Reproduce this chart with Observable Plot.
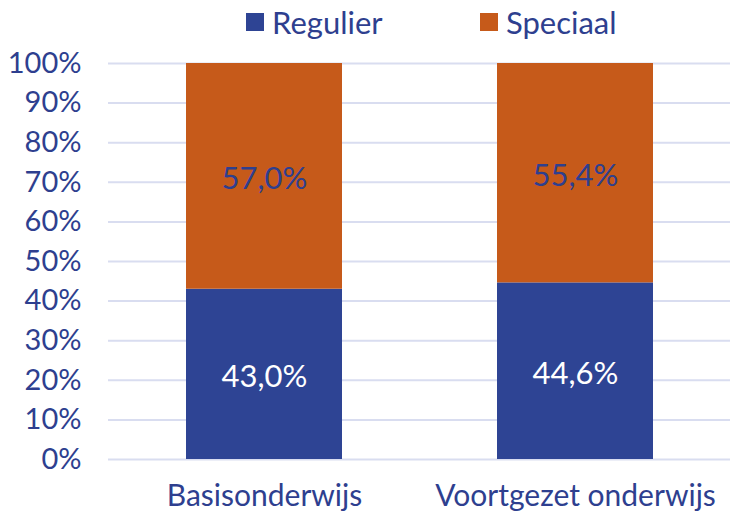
<!DOCTYPE html>
<html><head><meta charset="utf-8">
<script src="https://cdn.jsdelivr.net/npm/d3@7"></script>
<script src="https://cdn.jsdelivr.net/npm/@observablehq/plot@0.6"></script>
<style>
body{margin:0;background:#fff;font-family:Lato,"Open Sans",sans-serif;}
#legend{height:45px;position:relative;color:#2E3F8F;font-size:31px;}
.item{display:flex;align-items:center;position:absolute;top:3px;line-height:38px;}
.sw{width:18px;height:18px;display:inline-block;margin-right:8px;}
</style></head>
<body>
<div id="legend"></div>
<div id="chart"></div>
<script>
const categories = ["Basisonderwijs", "Voortgezet onderwijs"];
const series = ["Regulier", "Speciaal"];
const regulier = [43.0, 44.6];
const speciaal = [57.0, 55.4];
const yTicks = [0,10,20,30,40,50,60,70,80,90,100];
const colors = ["#2E4494", "#C65A1A"];
const labelColors = ["#ffffff", "#2E3F8F"];
const textColor = "#2E3F8F";

const rows = [];
categories.forEach((c,i)=>{
  rows.push({cat:c, type:series[0], value:regulier[i]});
  rows.push({cat:c, type:series[1], value:speciaal[i]});
});
const fmt = v => v.toFixed(1).replace(".", ",") + "%";

const legend = document.getElementById("legend");
const legendX = [246, 480];
series.forEach((s,i)=>{
  const d = document.createElement("div");
  d.className="item"; d.style.left = legendX[i]+"px";
  d.innerHTML = `<span class="sw" style="background:${colors[i]}"></span>${s}`;
  legend.appendChild(d);
});

const chart = Plot.plot({
  width: 730, height: 470,
  marginLeft: 108, marginRight: 0, marginTop: 18, marginBottom: 56,
  style: {fontFamily: 'Lato, "Open Sans", sans-serif', fontSize: "30px", color: textColor, background: "#fff", overflow: "visible"},
  x: {domain: categories, paddingInner: 0.5, paddingOuter: 0.25, label: null},
  y: {domain: [0,100], label: null},
  color: {domain: series, range: colors},
  marks: [
    Plot.gridY(yTicks, {stroke: "#D9DDF0", strokeOpacity: 1, strokeWidth: 2}),
    Plot.barY(rows, {x: "cat", y: "value", fill: "type"}),
    Plot.text(rows, Plot.stackY({x: "cat", y: "value", z: "type", text: d => fmt(d.value),
      fill: d => labelColors[series.indexOf(d.type)], fontSize: 31, dy: 3})),
    Plot.axisY(yTicks, {tickSize: 0, tickPadding: 27, tickFormat: d => d + "%", fill: textColor, fontSize: 29, marginLeft: 108}),
    Plot.axisX({tickSize: 0, tickPadding: 25, fill: textColor, fontSize: 30})
  ]
});
document.getElementById("chart").appendChild(chart);
</script>
</body></html>
